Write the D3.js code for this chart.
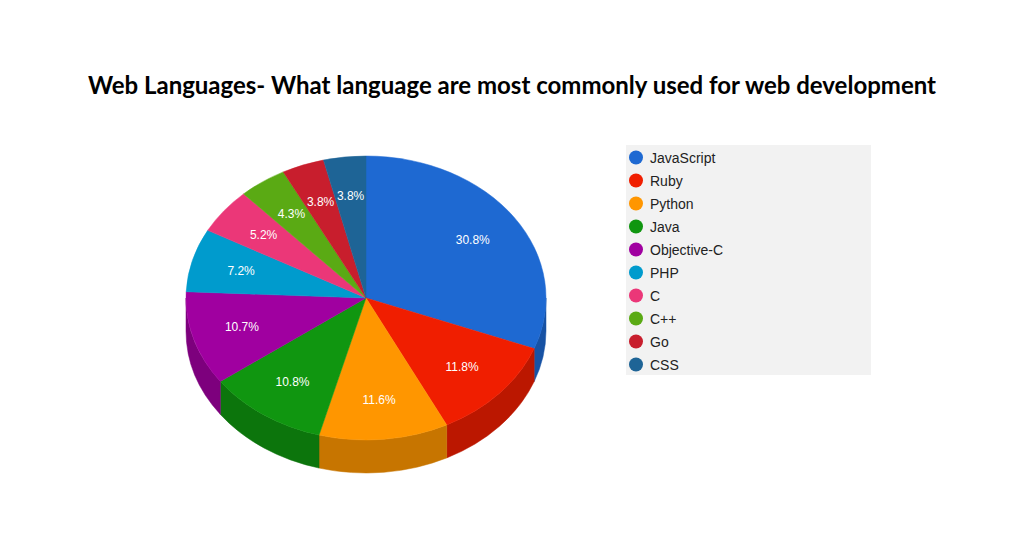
<!DOCTYPE html><html><head><meta charset="utf-8">
<script src="https://cdn.jsdelivr.net/npm/d3@7"></script>
<style>body{margin:0;background:#fff}</style></head><body>
<svg id="c" width="1024" height="550"></svg>
<script>
const categories=["JavaScript","Ruby","Python","Java","Objective-C","PHP","C","C++","Go","CSS"];
const values=[30.8,11.8,11.6,10.8,10.7,7.2,5.2,4.3,3.8,3.8];
const colors=["#1e69d2","#f01e00","#ff9600","#109610","#a000a0","#009bcd","#eb3778","#5aaa14","#c81e2d","#1e6496"];
const svg=d3.select("#c");
svg.append("text").attr("x",512).attr("y",94).attr("text-anchor","middle").attr("font-family","Lato").attr("font-weight","bold").attr("font-size",24).text("Web Languages- What language are most commonly used for web development");
const cx=366,cy=298,rx=180,ry=142,depth=33;
const pie=d3.pie().sort(null).value(d=>d)(values);
const pt=(a,dy=0)=>[cx+rx*Math.sin(a),cy-ry*Math.cos(a)+dy];
// sides
const P=Math.PI;
pie.forEach((s,i)=>{
  const a0=Math.max(s.startAngle,P/2),a1=Math.min(s.endAngle,3*P/2);
  if(a1<=a0)return;
  const p0=pt(a0),p1=pt(a1),q0=pt(a0,depth),q1=pt(a1,depth);
  const lg=(a1-a0)>P?1:0;
  const d=`M${p0}A${rx},${ry} 0 ${lg} 1 ${p1}L${q1}A${rx},${ry} 0 ${lg} 0 ${q0}Z`;
  svg.append("path").attr("d",d).attr("fill",d3.color(colors[i]).darker(0.7)).attr("stroke",d3.color(colors[i]).darker(0.7)).attr("stroke-width",0.5);
});
pie.forEach((s,i)=>{
  const p0=pt(s.startAngle),p1=pt(s.endAngle);
  const lg=(s.endAngle-s.startAngle)>P?1:0;
  svg.append("path").attr("d",`M${cx},${cy}L${p0}A${rx},${ry} 0 ${lg} 1 ${p1}Z`).attr("fill",colors[i]).attr("stroke",colors[i]).attr("stroke-width",0.5);
});
pie.forEach((s,i)=>{
  const m=(s.startAngle+s.endAngle)/2,f=0.72;
  svg.append("text").attr("x",cx+rx*f*Math.sin(m)).attr("y",cy-ry*f*Math.cos(m)+4).attr("text-anchor","middle")
   .attr("font-family","Liberation Sans, Arial").attr("font-size",12).attr("fill","#fff").text(values[i].toFixed(1)+"%");
});
const lg=svg.append("g");
lg.append("rect").attr("x",626).attr("y",145).attr("width",245).attr("height",230).attr("fill","#f2f2f2");
const ly=d3.scaleBand().domain(categories).range([146,376]);
categories.forEach((c,i)=>{
  const y=ly(c)+ly.bandwidth()/2;
  lg.append("circle").attr("cx",636).attr("cy",y).attr("r",7).attr("fill",colors[i]);
  lg.append("text").attr("x",650).attr("y",y+5).attr("font-family","Liberation Sans, Arial").attr("font-size",14).attr("fill","#222").text(c);
});
</script></body></html>
